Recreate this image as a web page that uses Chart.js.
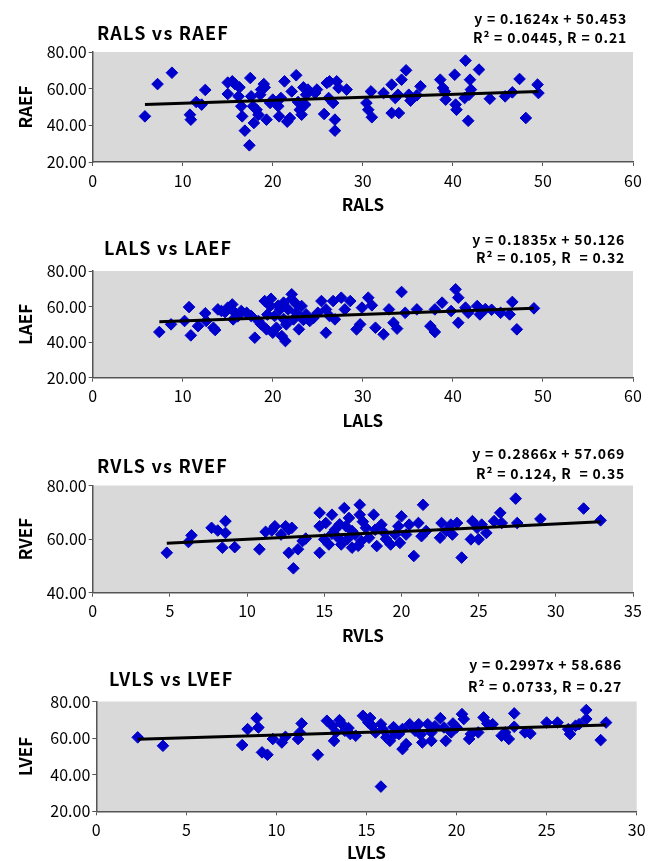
<!DOCTYPE html>
<html>
<head>
<meta charset="utf-8">
<title>LS vs EF</title>
<script src="https://cdn.jsdelivr.net/npm/chart.js@4.4.1/dist/chart.umd.min.js"></script>
<style>
  body { margin: 0; background: #fff; }
  #wrap { position: relative; width: 655px; height: 861px; }
  canvas { position: absolute; left: 0; }
</style>
</head>
<body>
<div id="wrap">
  <canvas id="chart-ra" width="655" height="215" style="top:0px;width:655px;height:215px"></canvas>
  <canvas id="chart-la" width="655" height="215" style="top:215px;width:655px;height:215px"></canvas>
  <canvas id="chart-rv" width="655" height="215" style="top:430px;width:655px;height:215px"></canvas>
  <canvas id="chart-lv" width="655" height="216" style="top:645px;width:655px;height:216px"></canvas>
</div>
<script>
// RALS vs RAEF
const ralsX = [5.8, 7.2, 8.8, 10.8, 10.9, 11.5, 12.1, 12.5, 15.0, 15.0,
  15.5, 15.8, 16.3, 16.2, 16.5, 16.6, 16.9, 17.4, 17.5, 17.6,
  17.8, 17.9, 18.2, 18.4, 18.6, 18.7, 19.0, 19.1, 19.3, 19.7,
  20.0, 20.6, 20.7, 20.9, 21.3, 21.6, 21.9, 22.1, 22.6, 22.8,
  23.0, 23.2, 23.4, 23.6, 23.7, 23.9, 24.7, 24.9, 25.7, 26.0,
  26.2, 26.3, 26.7, 26.9, 26.9, 27.1, 27.3, 28.2, 30.4, 30.6,
  30.9, 31.0, 32.3, 33.2, 33.2, 33.6, 33.9, 34.0, 34.3, 34.8,
  35.1, 35.3, 36.0, 36.4, 38.6, 38.9, 39.1, 39.2, 40.2, 40.3,
  40.4, 41.3, 41.4, 41.7, 41.9, 42.0, 41.8, 42.9, 44.1, 45.8,
  46.6, 47.4, 48.1, 49.4, 49.5];
const raefY = [44.9, 62.5, 68.7, 45.8, 43.1, 52.7, 51.3, 59.3, 57.1, 63.3,
  64.0, 62.5, 60.7, 55.8, 50.4, 44.9, 37.1, 29.1, 65.8, 55.8,
  50.4, 41.3, 48.5, 45.8, 56.7, 59.5, 62.5, 60.7, 43.1, 52.2,
  54.0, 50.4, 44.9, 54.9, 64.0, 42.0, 44.0, 58.5, 67.3, 52.7,
  48.5, 45.8, 60.7, 51.3, 56.7, 59.5, 57.6, 59.5, 46.2, 63.1,
  54.9, 64.0, 52.2, 43.1, 37.1, 64.0, 60.4, 59.5, 52.2, 48.5,
  58.5, 44.4, 57.6, 62.2, 46.7, 54.9, 56.7, 46.7, 64.9, 70.0,
  56.7, 53.5, 56.4, 61.3, 64.9, 60.4, 58.5, 54.0, 67.6, 51.3,
  48.5, 54.9, 75.3, 42.5, 64.9, 59.5, 56.7, 70.4, 54.5, 55.8,
  58.0, 65.3, 44.0, 62.2, 57.6];

// LALS vs LAEF
const lalsX = [7.4, 8.7, 10.2, 10.7, 10.9, 11.7, 12.5, 12.6, 13.4, 13.6,
  13.9, 14.7, 15.0, 15.5, 15.6, 15.8, 16.5, 17.1, 17.6, 18.0,
  18.4, 18.7, 19.1, 19.3, 19.7, 19.8, 20.0, 20.2, 20.4, 20.8,
  21.0, 21.2, 21.4, 21.5, 21.7, 22.1, 22.1, 22.3, 22.6, 22.9,
  23.2, 23.7, 24.1, 25.0, 25.4, 25.9, 25.9, 26.3, 26.7, 26.9,
  27.6, 28.0, 28.6, 29.3, 29.7, 29.9, 30.6, 31.0, 31.4, 32.3,
  32.9, 33.4, 33.8, 34.3, 34.7, 36.0, 37.5, 38.0, 38.0, 38.8,
  39.8, 40.3, 40.6, 40.6, 41.4, 41.7, 42.7, 43.0, 43.6, 44.3,
  45.3, 46.3, 46.6, 47.1, 49.0, 19.4, 20.6, 21.2, 22.7, 23.4,
  24.5, 16.1, 14.3];
const laefY = [45.7, 50.0, 51.9, 59.7, 43.8, 49.0, 56.2, 51.9, 48.1, 46.8,
  58.4, 56.9, 59.4, 61.2, 52.8, 56.5, 57.5, 56.5, 54.7, 42.5,
  51.9, 50.0, 63.1, 47.2, 60.3, 64.4, 45.3, 54.7, 48.1, 58.4,
  43.4, 62.2, 40.6, 50.0, 58.4, 66.9, 64.1, 52.8, 56.5, 47.2,
  60.3, 55.6, 51.9, 56.5, 63.1, 45.3, 58.4, 54.7, 63.1, 52.8,
  65.0, 58.4, 63.1, 47.2, 50.0, 59.4, 65.0, 60.7, 48.1, 44.4,
  58.4, 50.9, 47.6, 68.2, 56.5, 58.4, 49.0, 45.7, 58.4, 62.2,
  57.5, 69.7, 65.0, 50.9, 59.4, 56.5, 60.3, 55.6, 58.6, 58.2,
  56.5, 55.6, 62.6, 47.2, 59.0, 55.5, 60.5, 53.0, 61.0, 52.5,
  53.5, 54.5, 57.5];

// RVLS vs RVEF
const rvlsX = [4.8, 6.2, 6.4, 7.7, 8.1, 8.4, 8.6, 8.6, 9.2, 10.8,
  11.2, 11.6, 11.8, 12.2, 12.5, 12.7, 12.7, 12.9, 13.0, 13.3,
  13.6, 13.8, 14.7, 14.7, 14.7, 15.0, 15.1, 15.3, 15.5, 15.7,
  15.9, 16.1, 16.3, 16.4, 16.6, 16.8, 17.0, 17.3, 17.3, 17.4,
  17.7, 17.9, 18.2, 18.4, 18.7, 18.9, 19.3, 19.6, 19.8, 19.9,
  20.0, 20.3, 20.5, 20.8, 21.1, 21.3, 21.4, 21.6, 22.5, 22.6,
  22.9, 23.2, 23.3, 23.6, 23.9, 24.5, 24.6, 24.9, 25.0, 25.2,
  25.5, 26.0, 26.4, 26.5, 27.4, 27.5, 29.0, 31.8, 32.9, 15.5,
  16.0, 16.8, 17.5, 18.3, 19.0, 16.5, 17.2];
const rvefY = [54.9, 58.9, 61.4, 64.2, 63.2, 56.8, 66.7, 62.3, 57.0, 56.2,
  62.7, 63.2, 64.8, 61.7, 64.8, 63.6, 54.9, 64.2, 49.1, 56.2,
  59.3, 60.2, 69.8, 54.9, 64.8, 59.9, 66.0, 58.0, 69.1, 63.6,
  60.5, 58.0, 71.6, 64.8, 67.9, 56.8, 61.7, 72.8, 69.1, 59.3,
  64.2, 60.5, 69.1, 57.4, 65.4, 62.3, 58.0, 61.7, 64.8, 58.6,
  68.5, 61.7, 65.4, 53.7, 66.0, 61.1, 72.8, 63.0, 60.5, 66.0,
  63.0, 65.4, 61.7, 66.0, 53.1, 59.9, 66.7, 64.2, 59.9, 65.4,
  62.3, 66.7, 69.8, 66.0, 75.1, 66.0, 67.5, 71.4, 67.0, 62.0,
  65.5, 63.0, 66.5, 63.5, 60.0, 60.0, 57.5];

// LVLS vs LVEF
const lvlsX = [2.3, 3.7, 8.1, 8.4, 8.9, 9.0, 9.2, 9.5, 9.8, 10.3,
  10.5, 11.2, 11.3, 11.4, 12.3, 12.8, 13.1, 13.2, 13.3, 13.5,
  13.6, 13.8, 14.1, 14.4, 14.8, 15.1, 15.3, 15.5, 15.8, 15.9,
  16.1, 16.3, 15.8, 16.8, 17.0, 17.2, 17.4, 17.7, 17.9, 18.1,
  18.4, 18.6, 18.6, 19.1, 19.3, 19.4, 19.7, 20.0, 20.3, 20.4,
  20.7, 20.8, 21.2, 21.5, 21.7, 22.0, 22.5, 22.7, 22.9, 23.2,
  23.2, 23.8, 24.1, 25.0, 25.6, 26.2, 26.3, 26.6, 26.8, 27.2,
  27.2, 28.0, 28.3, 16.5, 17.0, 18.0, 18.8, 19.8, 16.6, 15.2,
  14.0];
const lvefY = [60.4, 55.8, 56.2, 64.9, 70.9, 65.8, 52.2, 50.9, 59.5, 57.6,
  60.7, 59.5, 63.1, 68.0, 50.9, 69.5, 66.7, 58.5, 63.1, 69.8,
  68.0, 64.0, 62.2, 61.3, 72.2, 68.5, 66.7, 63.1, 67.6, 64.9,
  60.4, 58.5, 33.5, 62.2, 54.0, 56.7, 67.6, 64.0, 67.6, 57.6,
  67.6, 58.5, 63.1, 70.9, 65.8, 58.5, 63.1, 65.8, 73.1, 70.4,
  59.5, 62.2, 63.1, 71.3, 68.0, 67.6, 61.3, 63.1, 59.5, 73.5,
  66.2, 63.1, 62.5, 68.5, 68.5, 64.9, 62.2, 66.7, 67.6, 75.3,
  70.4, 58.9, 68.5, 66.0, 65.0, 62.0, 66.5, 68.0, 62.5, 71.0,
  65.5];

// Trend line coefficients and the printed equations
const slopes = [0.1624, 0.1835, 0.2866, 0.2997];
const intercepts = [50.453, 50.126, 57.069, 58.686];
const eqLines = [
  ['y = 0.1624x + 50.453', 'R\u00b2 = 0.0445, R = 0.21'],
  ['y = 0.1835x + 50.126', 'R\u00b2 = 0.105, R  = 0.32'],
  ['y = 0.2866x + 57.069', 'R\u00b2 = 0.124, R  = 0.35'],
  ['y = 0.2997x + 58.686', 'R\u00b2 = 0.0733, R = 0.27']
];
const titles = ['RALS vs RAEF', 'LALS vs LAEF', 'RVLS vs RVEF', 'LVLS vs LVEF'];
const xNames = ['RALS', 'LALS', 'RVLS', 'LVLS'];
const yNames = ['RAEF', 'LAEF', 'RVEF', 'LVEF'];
const xMaxes = [60, 60, 35, 30];
const xSteps = [10, 10, 5, 5];
const yMins = [20, 20, 40, 20];
const yMax = 80;

const FONT = '"Noto Sans CJK SC", "DejaVu Sans", sans-serif';
Chart.defaults.font.family = FONT;
Chart.defaults.color = '#000';

// grey plot area, title and equation text
const panelDecor = {
  id: 'panelDecor',
  beforeDraw(chart, args, opts) {
    const a = chart.chartArea;
    const ctx = chart.ctx;
    ctx.save();
    ctx.fillStyle = '#d9d9d9';
    ctx.fillRect(a.left, a.top, a.right - a.left, a.bottom - a.top);
    ctx.restore();
  },
  afterDraw(chart, args, opts) {
    const ctx = chart.ctx;
    ctx.save();
    ctx.fillStyle = '#000';
    ctx.textBaseline = 'middle';
    ctx.font = 'bold 18px ' + FONT;
    ctx.letterSpacing = '1.2px';
    ctx.textAlign = 'left';
    ctx.fillText(opts.title, opts.titleX, opts.titleY);
    ctx.font = 'bold 14px ' + FONT;
    ctx.letterSpacing = '0.8px';
    ctx.textAlign = 'right';
    ctx.fillText(opts.eq[0], opts.eqX, opts.eqY[0]);
    ctx.fillText(opts.eq[1], opts.eqX, opts.eqY[1]);
    ctx.restore();
  }
};

function makeChart(id, i, lay) {
  const xs = [ralsX, lalsX, rvlsX, lvlsX][i];
  const ys = [raefY, laefY, rvefY, lvefY][i];
  const pts = xs.map((x, k) => ({ x: x, y: ys[k] }));
  const lo = Math.min(...xs), hi = Math.max(...xs);
  const fit = [
    { x: lo, y: slopes[i] * lo + intercepts[i] },
    { x: hi, y: slopes[i] * hi + intercepts[i] }
  ];
  const canvas = document.getElementById(id);
  const H = canvas.height;
  const xh = lay.xTitleY + 10.2 - lay.bottom; // x axis block height

  new Chart(canvas, {
    type: 'scatter',
    data: {
      datasets: [{
        type: 'line',
        data: fit,
        borderColor: '#000',
        borderWidth: 3,
        pointRadius: 0,
        showLine: true
      }, {
        data: pts,
        pointStyle: 'rectRot',
        pointRadius: 5.8,
        backgroundColor: '#0000cc',
        borderColor: '#0000cc',
        borderWidth: 1
      }]
    },
    options: {
      responsive: false,
      animation: false,
      layout: {
        padding: { left: 0, top: lay.top, right: 655 - lay.right, bottom: H - lay.bottom - xh }
      },
      plugins: {
        legend: { display: false },
        tooltip: { enabled: false },
        panelDecor: {
          title: titles[i], titleX: lay.titleX, titleY: lay.titleY,
          eq: eqLines[i], eqX: lay.eqX, eqY: lay.eqY
        }
      },
      scales: {
        x: {
          type: 'linear',
          min: 0,
          max: xMaxes[i],
          ticks: { stepSize: xSteps[i], padding: 5, font: { size: 16 } },
          grid: { drawOnChartArea: false, tickLength: 4, color: '#555' },
          border: { color: '#555', width: 1.5 },
          title: { display: true, text: xNames[i], font: { size: 17, weight: 'bold' }, padding: 0 },
          afterFit: s => { s.height = xh; }
        },
        y: {
          min: yMins[i],
          max: yMax,
          ticks: { stepSize: 20, padding: 2, font: { size: 16 }, callback: v => v.toFixed(2) },
          grid: { drawOnChartArea: false, tickLength: 4, color: '#555' },
          border: { color: '#555', width: 1.5 },
          title: { display: true, text: yNames[i], font: { size: 17, weight: 'bold' }, padding: { top: 15, bottom: 0 } },
          afterFit: s => { s.width = lay.left; }
        }
      }
    },
    plugins: [panelDecor]
  });
}

makeChart('chart-ra', 0, { top: 52, bottom: 162, left: 92.7, right: 633, xTitleY: 205,
  titleX: 97, titleY: 33, eqX: 627, eqY: [18.5, 38] });
makeChart('chart-la', 1, { top: 56, bottom: 162.7, left: 92.7, right: 633, xTitleY: 206,
  titleX: 104, titleY: 33, eqX: 625, eqY: [25, 43] });
makeChart('chart-rv', 2, { top: 55.5, bottom: 162.7, left: 92.7, right: 633, xTitleY: 206,
  titleX: 97, titleY: 36, eqX: 625, eqY: [24, 44] });
makeChart('chart-lv', 3, { top: 56.5, bottom: 166.3, left: 96.3, right: 636.7, xTitleY: 208,
  titleX: 109, titleY: 34, eqX: 622, eqY: [20, 42] });
</script>
</body>
</html>
